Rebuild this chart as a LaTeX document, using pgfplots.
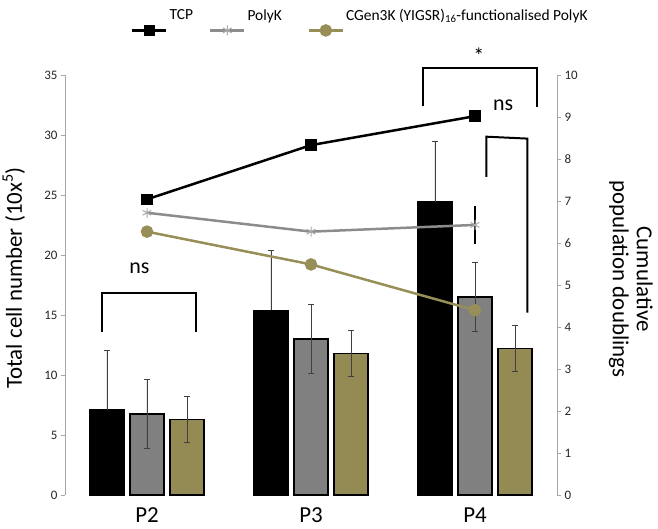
\documentclass[border=0pt]{standalone}
\usepackage{pgfplots}
\usepackage{pgfplotstable}
\pgfplotsset{compat=1.18}
\usepackage{fontspec}
\setmainfont{Carlito}
\definecolor{oliveBar}{RGB}{148,139,84}
\definecolor{oliveLine}{RGB}{152,143,88}
\definecolor{barGray}{RGB}{128,128,128}
\definecolor{lineGray}{RGB}{140,140,140}
\definecolor{markGray}{RGB}{170,170,170}
\definecolor{axGray}{RGB}{166,166,166}
\definecolor{errGray}{RGB}{64,64,64}

\pgfplotstableread{
x y e
0 7.08 5.0
1 15.4 5.0
2 24.45 5.05
}\tcpbar
\pgfplotstableread{
x y e
0 6.75 2.85
1 13.0 2.85
2 16.5 2.85
}\polykbar
\pgfplotstableread{
x y e
0 6.3 1.9
1 11.8 1.9
2 12.2 1.9
}\cgenbar
\pgfplotstableread{
x y
0 7.04
1 8.33
2 9.02
}\tcpline
\pgfplotstableread{
x y e
0 6.72 0
1 6.27 0
2 6.43 0.45
}\polykline
\pgfplotstableread{
x y
0 6.27
1 5.49
2 4.40
}\cgenline

\begin{document}
\begin{tikzpicture}
\pgfplotsset{
  common/.style={
    scale only axis, width=492bp, height=420bp,
    xmin=-0.5, xmax=2.5, clip=false,
    tick align=outside, major tick length=4bp,
    /pgf/number format/assume math mode=true,
    ticklabel style={font=\fontsize{13}{15}\selectfont, text=black!85},
    tick style={axGray, line width=0.8bp},
  },
  error bars/errstyle/.style={error bar style={errGray, line width=0.7bp},
    error mark options={rotate=90, errGray, mark size=3bp, line width=0.7bp}},
}
\begin{axis}[common, name=ax,
  axis lines*=left,
  x axis line style={draw=none},
  y axis line style={axGray, line width=0.8bp},
  xtick={0,1,2}, xticklabels={P2,P3,P4},
  xtick style={draw=none},
  xticklabel style={font=\fontsize{23}{26}\selectfont, text=black, yshift=-5bp},
  ymin=0, ymax=35, ytick={0,5,...,35},
  ylabel={Total cell number (10x\textsuperscript{5})},
  every axis y label/.style={at={(rel axis cs:-0.104,0.517)}, rotate=90, anchor=center, font=\fontsize{23}{26}\selectfont},
]
\addplot[ybar, bar width=0.207, bar shift=0, fill=black, draw=black, line width=1.2bp,
  error bars/.cd, y dir=plus, y explicit, errstyle]
  table[x expr=\thisrow{x}-0.244, y=y, y error=e] {\tcpbar};
\addplot[ybar, bar width=0.207, bar shift=0, fill=barGray, draw=black, line width=1.2bp,
  error bars/.cd, y dir=both, y explicit, errstyle]
  table[x=x, y=y, y error=e] {\polykbar};
\addplot[ybar, bar width=0.207, bar shift=0, fill=oliveBar, draw=black, line width=1.2bp,
  error bars/.cd, y dir=both, y explicit, errstyle]
  table[x expr=\thisrow{x}+0.244, y=y, y error=e] {\cgenbar};
% significance annotations
\draw[line width=2bp] (axis cs:-0.273,13.6) -- (axis cs:-0.273,16.8) -- (axis cs:0.296,16.8) -- (axis cs:0.296,13.6);
\node[font=\fontsize{22}{24}\selectfont] at (axis cs:-0.046,18.9) {ns};
\draw[line width=2bp] (axis cs:1.683,32.4) -- (axis cs:1.683,35.6) -- (axis cs:2.38,35.6) -- (axis cs:2.38,32.3);
\node[font=\fontsize{22}{24}\selectfont] at (axis cs:2.024,36.6) {*};
\draw[line width=2bp] (axis cs:2.069,26.5) -- (axis cs:2.069,29.86) -- (axis cs:2.319,29.7) -- (axis cs:2.319,15.2);
\node[font=\fontsize{22}{24}\selectfont] at (axis cs:2.171,32.5) {ns};
\end{axis}

\begin{axis}[common, at={(ax.south west)}, anchor=south west,
  axis x line=none, axis y line*=right,
  y axis line style={axGray, line width=0.8bp},
  ymin=0, ymax=10, ytick={0,1,...,10},
  ylabel={Cumulative\\population doublings},
  every axis y label/.style={at={(rel axis cs:1.150,0.514)}, rotate=-90, anchor=center, align=center, font=\fontsize{23}{24}\selectfont},
  legend columns=3,
  legend style={draw=none, fill=none, at={(rel axis cs:0.128,1.167)}, anchor=north west,
    font=\fontsize{15.5}{18}\selectfont,
    /tikz/every even column/.append style={column sep=14bp}},
  legend image code/.code={\draw[mark repeat=2,mark phase=2,#1] plot coordinates {(0bp,-15bp) (17bp,-15bp) (34bp,-15bp)};},
]
\addplot[black, line width=2.5bp, mark=square*, mark size=4.5bp, mark options={solid}] table[x=x,y=y] {\tcpline};
\addlegendentry{TCP}
\addplot[lineGray, line width=2.5bp, mark=asterisk, mark size=5bp, mark options={markGray, line width=1bp},
  error bars/.cd, y dir=both, y explicit, error mark=none, error bar style={black, line width=2bp}]
  table[x=x,y=y,y error=e] {\polykline};
\addlegendentry{\makebox[44bp][l]{PolyK}}
\addplot[oliveLine, line width=2.5bp, mark=*, mark size=5bp] table[x=x,y=y] {\cgenline};
\addlegendentry{CGen3K (YIGSR)\textsubscript{16}-functionalised PolyK}
\end{axis}
\pgfresetboundingbox
\path[use as bounding box] ([shift={(-65bp,-34bp)}]ax.south west) rectangle ([shift={(593bp,495bp)}]ax.south west);
\end{tikzpicture}
\end{document}
